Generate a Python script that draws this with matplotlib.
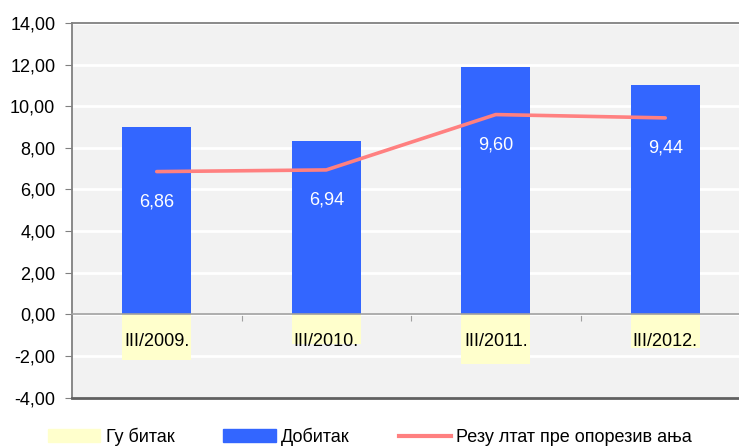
import matplotlib.pyplot as plt
from matplotlib.patches import Patch
from matplotlib.lines import Line2D
from matplotlib.ticker import FuncFormatter

periods = ["III/2009.", "III/2010.", "III/2011.", "III/2012."]
gubitak = [-2.17, -1.41, -2.37, -1.60]
dobitak = [8.99, 8.32, 11.87, 11.01]
rezultat = [6.86, 6.94, 9.60, 9.44]
legend_names = ["Гу битак", "Добитак", "Резу лтат пре опорезив ања"]

plt.rcParams['font.family'] = ['Liberation Sans', 'DejaVu Sans']

fig = plt.figure(figsize=(7.39, 4.48), dpi=100)
ax = fig.add_axes([72 / 739, 50.4 / 448, 678 / 739, 374.6 / 448])
ax.set_facecolor('#F2F2F2')
ax.set_axisbelow(True)

x = range(len(periods))
ax.bar(x, gubitak, width=0.41, color='#FFFFCC', zorder=2)
ax.bar(x, dobitak, width=0.41, color='#3366FF', zorder=2)
ax.plot(x, rezultat, color='#FF8080', lw=2.6, solid_capstyle='round', zorder=3)

# vrednosti ispod linije
for i, v in enumerate(rezultat):
    ax.annotate(f"{v:.2f}".replace('.', ','), (i, v), xytext=(0, -22),
                textcoords='offset points', ha='center', va='center',
                color='white', fontsize=13, zorder=4)

for i, p in enumerate(periods):
    ax.annotate(p, (i, 0), xytext=(0, -19.5), textcoords='offset points',
                ha='center', va='center', fontsize=13, zorder=4)

ax.set_xlim(-0.5, len(periods) - 0.5)
ax.set_ylim(-4, 14)
ax.set_yticks(range(-4, 15, 2))
ax.yaxis.set_major_formatter(FuncFormatter(lambda v, _: f"{v:.2f}".replace('.', ',')))
ax.tick_params(axis='y', length=5, color='#808080', pad=7, labelsize=13)
ax.grid(axis='y', color='white', lw=2)

ax.spines['bottom'].set_position(('data', 0))
ax.spines['bottom'].set_color('#A0A0A0')
ax.spines['bottom'].set_linewidth(1.2)
ax.set_xticks([i + 0.5 for i in range(len(periods) - 1)])
ax.set_xticklabels([])
ax.tick_params(axis='x', length=5, color='#A0A0A0', direction='out')
for s in ['left', 'top', 'right']:
    ax.spines[s].set_color('#808080')
    ax.spines[s].set_linewidth(1.3)
ax.axhline(-4, color='#606060', lw=2, clip_on=False, zorder=5)

handles = [Patch(color='#FFFFCC'), Patch(color='#3366FF'),
           Line2D([], [], color='#FF8080', lw=3)]
fig.legend(handles, legend_names, loc='center left', bbox_to_anchor=(48 / 739, 0.025),
           ncol=3, frameon=False, fontsize=13, handlelength=2.9, handletextpad=0.3,
           columnspacing=2.7, borderpad=0, borderaxespad=0)

fig.savefig('out.png', dpi=100)
